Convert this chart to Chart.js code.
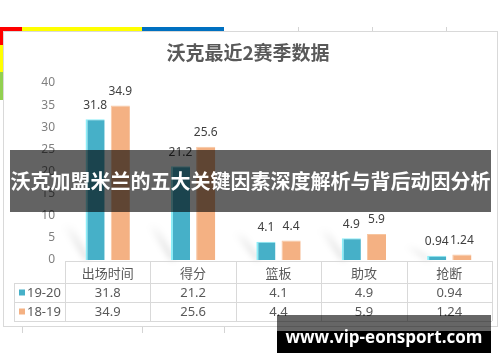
<!DOCTYPE html>
<html>
<head>
<meta charset="utf-8">
<script src="https://cdn.jsdelivr.net/npm/chart.js@4.4.1/dist/chart.umd.min.js"></script>
<style>
  html, body { margin: 0; padding: 0; background: #fff; }
  body { width: 500px; height: 362px; position: relative; overflow: hidden; font-family: "Noto Sans CJK SC", "Noto Sans", sans-serif; }
  .cell { position: absolute; }
  .vline { position: absolute; width: 1px; background: #d4d4d4; }
  #frame { position: absolute; left: 3px; top: 31px; width: 495px; height: 296px; box-sizing: border-box; border: 1px solid #d9d9d9; background: #fff; }
  #frame canvas { display: block; }
  #banner { position: absolute; left: 10px; top: 150px; width: 481px; height: 62px; background: rgba(0,0,0,0.61); color: #fff; font-weight: bold; font-size: 20px; line-height: 62px; text-align: center; white-space: nowrap; letter-spacing: 0; }
  #mark { position: absolute; left: 277px; top: 315px; width: 214px; height: 38px; }
  #mark .top { height: 16px; background: rgba(0,0,0,0.6); }
  #mark .bot { height: 22px; background: #000; }
  #mark .txt { position: absolute; left: 0; top: 11px; width: 214px; text-align: center; color: #fff; font-family: "Open Sans", sans-serif; font-weight: bold; font-size: 17px; line-height: 22px; }
</style>
</head>
<body>
<!-- spreadsheet behind the chart -->
<div class="cell" style="left:0;top:27px;width:22px;height:4px;background:#ff0000"></div>
<div class="cell" style="left:22px;top:27px;width:120px;height:4px;background:#ffff00"></div>
<div class="cell" style="left:142px;top:27px;width:82px;height:4px;background:#0070c0"></div>
<div class="vline" style="left:298px;top:27px;height:4px"></div>
<div class="vline" style="left:372px;top:27px;height:4px"></div>
<div class="vline" style="left:446px;top:27px;height:4px"></div>
<div class="cell" style="left:0;top:31px;width:3px;height:14px;background:#ff0000"></div>
<div class="cell" style="left:0;top:45px;width:3px;height:27px;background:#ffff00"></div>
<div class="cell" style="left:0;top:72px;width:3px;height:28px;background:#92d050"></div>
<div class="vline" style="left:22px;top:327px;height:6px"></div>
<div class="vline" style="left:142px;top:327px;height:6px"></div>
<div class="vline" style="left:224px;top:327px;height:6px"></div>

<div id="frame"><canvas id="chart" width="493" height="294"></canvas></div>
<div id="banner">沃克加盟米兰的五大关键因素深度解析与背后动因分析</div>
<div id="mark"><div class="top"></div><div class="bot"></div><div class="txt">www.vip-eonsport.com</div></div>

<script>
const categories = ['出场时间', '得分', '篮板', '助攻', '抢断'];
const season1920 = [31.8, 21.2, 4.1, 4.9, 0.94];
const season1819 = [34.9, 25.6, 4.4, 5.9, 1.24];
const seriesNames = ['19-20', '18-19'];
const yTicks = [0, 5, 10, 15, 20, 25, 30, 35, 40];

const textColor = '#595959';
const tickColor = '#7f7f7f';
const labelColor = '#404040';
const lineColor = '#d9d9d9';
const blue = '#46b0c8';
const orange = '#f4b183';

// soft shadows behind the bars
const shadowPlugin = {
  id: 'barShadow',
  beforeDatasetsDraw(chart) {
    const ctx = chart.ctx;
    const base = chart.scales.y.getPixelForValue(0);
    const meta = chart.getDatasetMeta(0);
    ctx.save();
    ctx.filter = 'blur(3px)';
    meta.data.forEach(bar => {
      const left = bar.x - bar.width / 2;
      const h = Math.min(36, (base - bar.y) + 10);
      const g = ctx.createLinearGradient(0, base, 0, base - h);
      g.addColorStop(0, 'rgba(0,0,0,0.16)');
      g.addColorStop(1, 'rgba(0,0,0,0)');
      ctx.fillStyle = g;
      ctx.beginPath();
      ctx.moveTo(left, base);
      ctx.lineTo(left + 4, base);
      ctx.lineTo(left - 14, base - h);
      ctx.lineTo(left - 24, base - h);
      ctx.closePath();
      ctx.fill();
    });
    ctx.restore();
  }
};

// value labels above bars
const labelPlugin = {
  id: 'valueLabels',
  afterDatasetsDraw(chart) {
    const ctx = chart.ctx;
    ctx.save();
    ctx.font = '12px "Noto Sans", sans-serif';
    ctx.fillStyle = labelColor;
    ctx.textAlign = 'center';
    ctx.textBaseline = 'middle';
    chart.data.datasets.forEach((ds, di) => {
      chart.getDatasetMeta(di).data.forEach((bar, i) => {
        ctx.fillText(String(ds.data[i]), bar.x, bar.y - 14);
      });
    });
    ctx.restore();
  }
};

// data table under the plot (Excel style)
const tablePlugin = {
  id: 'dataTable',
  afterDraw(chart) {
    const ctx = chart.ctx;
    const xs = chart.scales.x;
    const area = chart.chartArea;
    const top = area.bottom + 1;
    const rows = [top, top + 22, top + 41, top + 60];
    const legendLeft = 10;
    const n = categories.length;
    const colW = (area.right - area.left) / n;
    ctx.save();
    ctx.strokeStyle = lineColor;
    ctx.lineWidth = 1;
    ctx.beginPath();
    // horizontal lines
    ctx.moveTo(area.left, rows[0] + 0.5); ctx.lineTo(area.right, rows[0] + 0.5);
    for (let r = 1; r < rows.length; r++) {
      ctx.moveTo(legendLeft, rows[r] + 0.5); ctx.lineTo(area.right, rows[r] + 0.5);
    }
    // vertical lines
    for (let c = 0; c <= n; c++) {
      const x = Math.round(area.left + c * colW) + 0.5;
      ctx.moveTo(x, rows[0]); ctx.lineTo(x, rows[3]);
    }
    ctx.moveTo(legendLeft + 0.5, rows[1]); ctx.lineTo(legendLeft + 0.5, rows[3]);
    ctx.stroke();

    ctx.fillStyle = textColor;
    ctx.textAlign = 'center';
    ctx.textBaseline = 'middle';
    ctx.font = '13px "Noto Sans CJK SC", sans-serif';
    categories.forEach((c, i) => {
      ctx.fillText(c, xs.getPixelForValue(i), (rows[0] + rows[1]) / 2 + 1);
    });
    ctx.font = '13px "Noto Sans", sans-serif';
    const sets = [season1920, season1819];
    sets.forEach((vals, r) => {
      const cy = (rows[r + 1] + rows[r + 2]) / 2 + 1;
      vals.forEach((v, i) => ctx.fillText(String(v), xs.getPixelForValue(i), cy));
    });
    // legend keys
    ctx.textAlign = 'left';
    [blue, orange].forEach((col, r) => {
      const cy = (rows[r + 1] + rows[r + 2]) / 2;
      ctx.fillStyle = col;
      ctx.fillRect(legendLeft + 5, cy - 3, 6, 6);
      ctx.fillStyle = textColor;
      ctx.fillText(seriesNames[r], legendLeft + 13, cy + 1);
    });
    ctx.restore();
  }
};

new Chart(document.getElementById('chart').getContext('2d'), {
  type: 'bar',
  data: {
    labels: categories,
    datasets: [
      {
        label: seriesNames[0],
        data: season1920,
        backgroundColor: blue,
        borderColor: '#8ceef8',
        borderWidth: { left: 2, top: 1, right: 0, bottom: 0 },
        borderSkipped: false,
        categoryPercentage: 0.59,
        barPercentage: 0.76
      },
      {
        label: seriesNames[1],
        data: season1819,
        backgroundColor: orange,
        borderColor: '#f8c7a3',
        borderWidth: { left: 1, top: 1, right: 0, bottom: 0 },
        borderSkipped: false,
        categoryPercentage: 0.59,
        barPercentage: 0.76
      }
    ]
  },
  options: {
    responsive: false,
    animation: false,
    layout: { padding: { left: 0, right: 5, top: 0, bottom: 66 } },
    plugins: {
      legend: { display: false },
      tooltip: { enabled: false },
      title: {
        display: true,
        text: '沃克最近2赛季数据',
        color: textColor,
        font: { family: '"Noto Sans CJK SC", sans-serif', size: 19, weight: 'bold' },
        padding: { top: 9.6, bottom: 18.6 }
      }
    },
    scales: {
      x: { display: false },
      y: {
        min: 0,
        max: 40,
        afterFit(scale) { scale.width = 61; },
        afterBuildTicks(scale) { scale.ticks = yTicks.map(v => ({ value: v })); },
        border: { display: false },
        grid: { display: false, drawTicks: false },
        ticks: { color: tickColor, padding: 10, font: { family: '"Noto Sans", sans-serif', size: 12 } }
      }
    }
  },
  plugins: [shadowPlugin, labelPlugin, tablePlugin]
});
</script>
</body>
</html>
